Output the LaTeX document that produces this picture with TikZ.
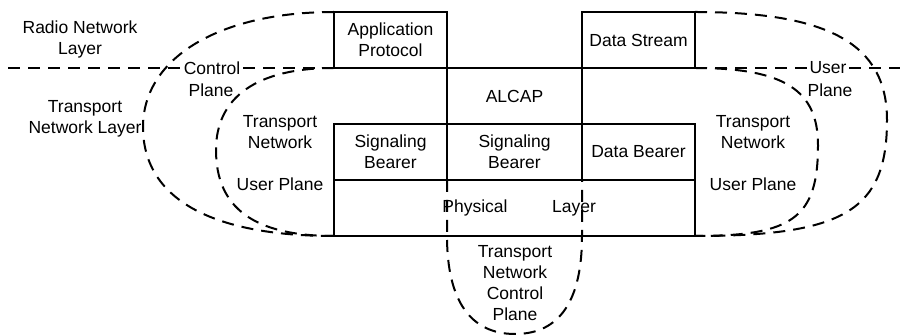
\documentclass[tikz,border=0pt]{standalone}
\usepackage{fontspec}
\setmainfont{Liberation Sans}
\begin{document}
\begin{tikzpicture}[x=1pt,y=-1pt,
  lbl/.style={font=\fontsize{17.5pt}{21pt}\selectfont, align=center, inner sep=0pt, outer sep=0pt},
  box/.style={lbl, draw, line width=2pt, minimum height=56pt},
  dsh/.style={line width=2pt, dash pattern=on 12pt off 8pt},
  gap/.style={lbl, inner xsep=3pt}]
\useasboundingbox (0,0) rectangle (900,336);
% boxes
\node[box, minimum width=113pt] (app) at (390.5,40) {Application\\Protocol};
\node[box, minimum width=113pt] (ds) at (638.5,40) {Data Stream};
\node[box, minimum width=135pt] (alcap) at (514.5,96) {ALCAP};
\node[box, minimum width=113pt] (sb1) at (390.5,152) {Signaling\\Bearer};
\node[box, minimum width=135pt] (sb2) at (514.5,152) {Signaling\\Bearer};
\node[box, minimum width=113pt] (db) at (638.5,152) {Data Bearer};
\node[box, minimum width=361pt] (phys) at (514.5,208) {};
\node[lbl] (physA) at (475,208) {Physical};
\node[lbl] (physB) at (574,208) {Layer};
% labels
\node[lbl] (rnl) at (80,39.5) {Radio Network\\Layer};
\node[lbl] (tnl) at (85,119) {Transport\\Network Layer};
\node[gap] (ctrlA) at (212,68) {Control};
\node[lbl] (ctrlB) at (211,90) {Plane};
\node[gap] (userA) at (828,68) {User};
\node[lbl] (userB) at (830,90) {Plane};
\node[lbl] (tnuL) at (280,132) {Transport\\Network};
\node[lbl] (upL) at (280,184) {User Plane};
\node[lbl] (tnuR) at (753,132) {Transport\\Network};
\node[lbl] (upR) at (753,184) {User Plane};
\node[lbl] (tncp) at (515,283) {Transport\\Network\\Control\\Plane};
\coordinate (lend) at (8,68);
\coordinate (rend) at (900,68);
% layer separator
\draw[dsh] (lend) -- (ctrlA.west);
\draw[dsh] (ctrlA.east) -- (app.south west);
\draw[dsh] (ds.south east) -- (userA.west);
\draw[dsh] (userA.east) -- (rend);
% control plane (outer left)
\draw[dsh] (app.north west) .. controls (219,12) and (143,58) .. (143,127)
  .. controls (143,198) and (210,236) .. (phys.south west);
% transport network user plane (inner left)
\draw[dsh] (app.south west) .. controls (257,68) and (216,97) .. (216,150)
  .. controls (216,208) and (254,236) .. (phys.south west);
% user plane (outer right)
\draw[dsh] (ds.north east) .. controls (829,12) and (887,44) .. (887,120)
  .. controls (887,210) and (845,236) .. (phys.south east);
% transport network user plane (inner right)
\draw[dsh] (ds.south east) .. controls (784,68) and (818,90) .. (818,145)
  .. controls (818,218) and (793,236) .. (phys.south east);
% transport network control plane (bottom)
\draw[dsh] (sb2.south west) -- (447,236) .. controls (447,300) and (470,334) .. (515,334)
  .. controls (560,334) and (582,300) .. (582,236) -- (sb2.south east);
\end{tikzpicture}
\end{document}
